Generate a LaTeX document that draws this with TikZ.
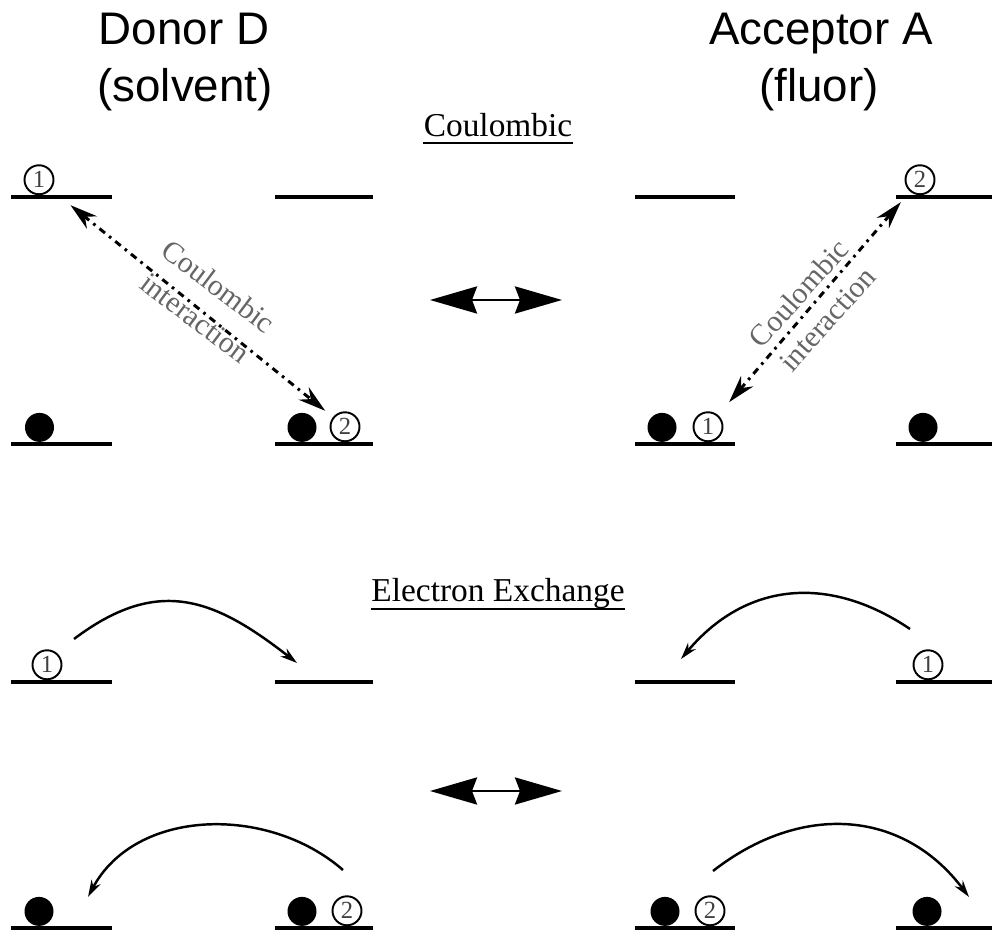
\documentclass[tikz,border=0pt]{standalone}
\usepackage{fontspec}
\setmainfont{Liberation Serif}
\newfontfamily\headfont{Liberation Sans}
\usetikzlibrary{arrows.meta}

\begin{document}
\begin{tikzpicture}[
  level/.style={line width=1.9pt},
  elec/.style={circle,fill=black,inner sep=0pt,minimum size=0.58cm,anchor=south},
  hole/.style={circle,draw,fill=white,line width=1.1pt,inner sep=0pt,minimum size=0.58cm,anchor=south,
    font=\fontsize{14}{14}\selectfont,text=black!75},
  head/.style={font=\headfont\fontsize{26}{30}\selectfont,inner sep=0pt,anchor=base},
  title/.style={font=\fontsize{19}{20}\selectfont,inner sep=0pt,anchor=base},
  uline/.style={line width=1.1pt},
  coul/.style={line width=1.7pt,dash pattern=on 4pt off 3pt on 1.5pt off 3pt,
    {Stealth[length=0.55cm,width=0.32cm]}-{Stealth[length=0.55cm,width=0.32cm]}},
  tag/.style={font=\fontsize{17}{22}\selectfont,text=black!60,align=center,inner sep=0pt},
  hop/.style={line width=1.4pt,-{Stealth[length=0.34cm,width=0.2cm]}},
  reso/.style={line width=1.6pt,
    {Stealth[length=0.94cm,width=0.54cm,inset=0.1cm]}-{Stealth[length=0.94cm,width=0.54cm,inset=0.1cm]}}
]
\useasboundingbox (0,0) rectangle (19.84,18.66);

% headings
\node[head] (don) at (3.68,17.76) {Donor D};
\node[head] (dons) at (3.70,16.62) {(solvent)};
\node[head] (acc) at (16.42,17.76) {Acceptor A};
\node[head] (accs) at (16.38,16.62) {(fluor)};

% energy levels
\foreach \y in {14.72,9.78,5.02,0.10}
  \foreach \a/\b in {0.22/2.24,5.5/7.46,12.7/14.7,17.92/19.84}
    \draw[level] (\a,\y) -- (\b,\y);

% Coulombic
\node[title] (coul) at (9.96,15.92) {Coulombic};
\draw[uline] ([yshift=-0.12cm]coul.base west) -- ([yshift=-0.12cm]coul.base east);

\node[hole] (h1) at (0.78,14.755) {1};
\node[elec] (e1) at (0.79,9.815) {};
\node[elec] (e2) at (6.04,9.815) {};
\node[hole] (h2) at (6.90,9.815) {2};
\node[elec] (e3) at (13.24,9.815) {};
\node[hole] (h3) at (14.16,9.815) {1};
\node[hole] (h4) at (18.40,14.755) {2};
\node[elec] (e4) at (18.46,9.815) {};

\draw[coul,shorten <=0.5cm,shorten >=0.2cm] (h1) -- (h2);
\draw[coul,shorten <=0.34cm,shorten >=0.28cm] (h3) -- (h4);
\node[tag,rotate=-36.9] (t1) at (4.14,12.62) {Coulombic\\interaction};
\node[tag,rotate=48] (t2) at (16.26,12.54) {Coulombic\\interaction};

\coordinate (r1) at (8.6,12.66);
\coordinate (r2) at (11.24,12.66);
\draw[reso] (r1) -- (r2);

% Electron Exchange
\node[title] (exch) at (9.96,6.62) {Electron Exchange};
\draw[uline] ([yshift=-0.14cm]exch.base west) -- ([yshift=-0.14cm]exch.base east);

\node[hole] (h5) at (0.94,5.055) {1};
\node[hole] (h6) at (18.56,5.055) {1};
\node[elec] (e5) at (0.78,0.135) {};
\node[elec] (e6) at (6.04,0.135) {};
\node[hole] (h7) at (6.94,0.135) {2};
\node[elec] (e7) at (13.30,0.135) {};
\node[hole] (h8) at (14.20,0.135) {2};
\node[elec] (e8) at (18.54,0.135) {};

\coordinate (s1) at (1.48,5.88);
\coordinate (f1) at (5.94,5.40);
\coordinate (s2) at (18.20,6.08);
\coordinate (f2) at (13.62,5.48);
\coordinate (s3) at (6.86,1.26);
\coordinate (f3) at (1.76,0.72);
\coordinate (s4) at (14.26,1.24);
\coordinate (f4) at (19.38,0.72);
\draw[hop] (s1) to[out=37,in=142,looseness=1.2] (f1);
\draw[hop] (s2) to[out=146,in=50,looseness=1.1] (f2);
\draw[hop] (s3) to[out=139,in=62] (f3);
\draw[hop] (s4) to[out=38,in=127,looseness=1.1] (f4);

\coordinate (r3) at (8.6,2.84);
\coordinate (r4) at (11.24,2.84);
\draw[reso] (r3) -- (r4);
\end{tikzpicture}
\end{document}
